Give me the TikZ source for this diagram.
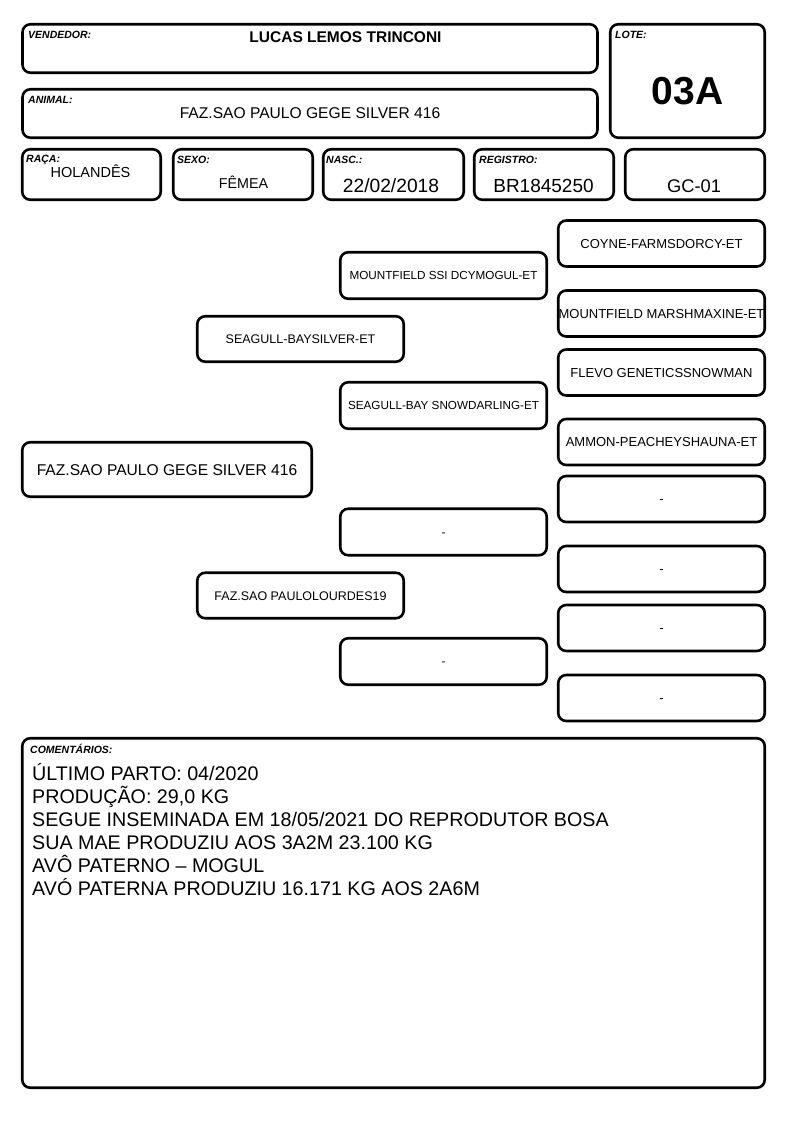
\documentclass[tikz,border=0pt]{standalone}
\usepackage{fontspec}
\setmainfont{Liberation Sans}
\newcommand{\fsz}[1]{\fontsize{#1pt}{#1pt}\selectfont}
\tikzset{
  card/.style={draw, line width=2.6pt, rounded corners=8pt, inner sep=0pt},
  tag/.style={anchor=base west, inner sep=0pt, font=\fsz{10.5}\bfseries\itshape},
  val/.style={anchor=base, inner sep=0pt},
  gena/.style={card, minimum width=289.5pt, minimum height=54.5pt, font=\fsz{15.6}, text height=11.2pt, text depth=0pt},
  genb/.style={card, minimum width=206.5pt, minimum height=45.5pt, font=\fsz{12.5}, text height=9pt, text depth=0pt},
  genc/.style={card, minimum width=206.5pt, minimum height=46.5pt, font=\fsz{11.7}, text height=8.4pt, text depth=0pt},
  gend/.style={card, minimum width=206.5pt, minimum height=46pt, font=\fsz{13}, text height=9.3pt, text depth=0pt},
  note/.style={anchor=base west, inner sep=0pt, font=\fsz{19.7}},
}
\begin{document}
\begin{tikzpicture}[x=1pt, y=-1pt]
  \useasboundingbox (0,0) rectangle (794,1123);
  % header
  \node[card, minimum width=575pt, minimum height=48.5pt] (vend) at (310,48.5) {};
  \node[tag] (vendtag) at (28,39) {VENDEDOR:};
  \node[val, font=\fsz{15.5}\bfseries] (vendname) at (345.5,43) {LUCAS LEMOS TRINCONI};
  \node[card, minimum width=154.5pt, minimum height=113.5pt] (lote) at (687.5,81) {};
  \node[tag] (lotetag) at (615,39) {LOTE:};
  \node[val, font=\fsz{39}\bfseries] (loteval) at (687.5,105) {03A};
  \node[card, minimum width=575pt, minimum height=48.5pt] (anim) at (310,113.5) {};
  \node[tag] (animtag) at (28,104) {ANIMAL:};
  \node[val, font=\fsz{15.6}] (animname) at (310,119) {FAZ.SAO PAULO GEGE SILVER 416};
  \node[card, minimum width=138.5pt, minimum height=50.5pt] (raca) at (91.5,174.5) {};
  \node[tag] (racatag) at (26,163) {RAÇA:};
  \node[val, font=\fsz{14.5}] (racaval) at (90.5,178) {HOLANDÊS};
  \node[card, minimum width=139.5pt, minimum height=50.5pt] (sexo) at (243,174.5) {};
  \node[tag] (sexotag) at (177,164) {SEXO:};
  \node[val, font=\fsz{14.3}] (sexoval) at (243.5,189) {FÊMEA};
  \node[card, minimum width=140.5pt, minimum height=50.5pt] (nasc) at (393.5,174.5) {};
  \node[tag] (nasctag) at (326,164) {NASC.:};
  \node[val, font=\fsz{19.2}] (nascval) at (391,193) {22/02/2018};
  \node[card, minimum width=139.5pt, minimum height=50.5pt] (regi) at (544,174.5) {};
  \node[tag] (regitag) at (479,164) {REGISTRO:};
  \node[val, font=\fsz{19}] (regival) at (543.5,193) {BR1845250};
  \node[card, minimum width=139.5pt, minimum height=50.5pt] (gc) at (695,174.5) {};
  \node[val, font=\fsz{18.3}] (gcval) at (694,193) {GC-01};
  % pedigree
  \node[gena] (animal) at (167,469.5) {FAZ.SAO PAULO GEGE SILVER 416};
  \node[genb] (pai) at (300.5,339) {SEAGULL-BAYSILVER-ET};
  \node[genb] (mae) at (300.5,595.5) {FAZ.SAO PAULOLOURDES19};
  \node[genc] (avopp) at (443.5,275.5) {MOUNTFIELD SSI DCYMOGUL-ET};
  \node[genc] (avopm) at (443.5,405.5) {SEAGULL-BAY SNOWDARLING-ET};
  \node[genc] (avomp) at (443.5,532) {-};
  \node[genc] (avomm) at (443.5,661.5) {-};
  \node[gend] (bis1) at (661.5,243.5) {COYNE-FARMSDORCY-ET};
  \node[gend] (bis2) at (661.5,313.5) {MOUNTFIELD MARSHMAXINE-ET};
  \node[gend] (bis3) at (661.5,372.5) {FLEVO GENETICSSNOWMAN};
  \node[gend] (bis4) at (661.5,442) {AMMON-PEACHEYSHAUNA-ET};
  \node[gend] (bis5) at (661.5,499) {-};
  \node[gend] (bis6) at (661.5,569) {-};
  \node[gend] (bis7) at (661.5,628) {-};
  \node[gend] (bis8) at (661.5,698) {-};
  % comments
  \node[card, minimum width=742.5pt, minimum height=349.5pt] (coment) at (393.5,913) {};
  \node[tag] (comtag) at (30,753) {COMENTÁRIOS:};
  \node[note] (linha1) at (32,780) {ÚLTIMO PARTO: 04/2020};
  \node[note] (linha2) at (32,803) {PRODUÇÃO: 29,0 KG};
  \node[note] (linha3) at (32,826) {SEGUE INSEMINADA EM 18/05/2021 DO REPRODUTOR BOSA};
  \node[note] (linha4) at (32,849) {SUA MAE PRODUZIU AOS 3A2M 23.100 KG};
  \node[note] (linha5) at (32,872) {AVÔ PATERNO – MOGUL};
  \node[note] (linha6) at (32,895) {AVÓ PATERNA PRODUZIU 16.171 KG AOS 2A6M};
\end{tikzpicture}
\end{document}
